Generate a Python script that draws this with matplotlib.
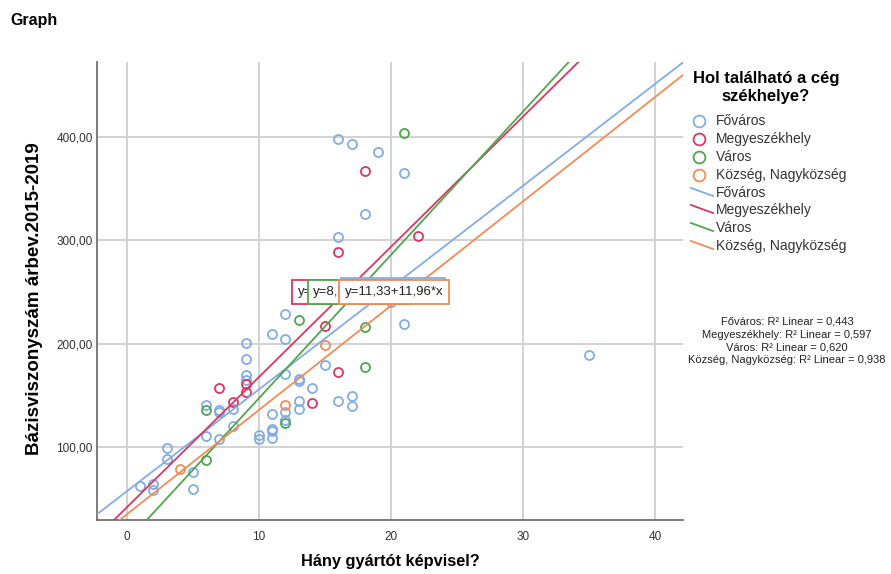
import numpy as np
import matplotlib
matplotlib.use("Agg")
import matplotlib.pyplot as plt
from matplotlib.ticker import FuncFormatter, FixedLocator

plt.rcParams['font.family'] = ['Liberation Sans', 'DejaVu Sans']

# ---- data -------------------------------------------------------------
groups = ["Főváros", "Megyeszékhely", "Város", "Község, Nagyközség"]
colors = ["#82ace6", "#d93862", "#4fa64f", "#f08c57"]

fovaros_x = [1, 2, 2, 3, 3, 5, 5, 6, 6, 7, 7, 7, 8, 8, 9, 9, 9, 9, 10, 10,
             11, 11, 11, 11, 11, 12, 12, 12, 12, 12, 13, 13, 13, 13, 14, 15,
             16, 16, 16, 17, 17, 17, 18, 19, 20, 21, 21, 35]
fovaros_y = [62.0, 64.5, 58.0, 99.4, 88.0, 75.8, 59.0, 140.3, 111.0, 136.0,
             134.0, 108.0, 137.0, 120.0, 201.0, 185.5, 170.0, 165.0, 112.0,
             108.0, 209.7, 131.6, 117.0, 115.5, 108.7, 229.0, 204.8, 171.0,
             134.0, 126.0, 166.0, 163.5, 144.5, 136.8, 157.4, 179.3, 144.2,
             398.0, 303.0, 393.0, 149.0, 139.4, 325.7, 386.0, 240.0, 365.0,
             219.0, 189.0]

megye_x = [7, 8, 9, 9, 14, 15, 16, 16, 18, 22]
megye_y = [157.0, 143.5, 160.6, 153.2, 143.0, 217.0, 173.0, 288.6, 367.6, 303.8]

varos_x = [6, 6, 12, 13, 18, 18, 21]
varos_y = [135.5, 87.8, 123.0, 222.5, 216.0, 177.7, 404.0]

kozseg_x = [4, 12, 15]
kozseg_y = [79.0, 140.3, 198.4]

# linear fit lines per group (intercept, slope)
fit_intercepts = [57.2, 41.7, 8.5, 34.9]
fit_slopes = [9.86, 12.61, 13.88, 10.1]

r2_values = ["0,443", "0,597", "0,620", "0,938"]
eq_labels = ["y=57,21+9,86*x", "y=41,73+12,61*x", "y=8,53+13,88*x",
             "y=11,33+11,96*x"]

x_ticks = [0, 10, 20, 30, 40]
y_ticks = [100, 200, 300, 400]

series = [(fovaros_x, fovaros_y), (megye_x, megye_y),
          (varos_x, varos_y), (kozseg_x, kozseg_y)]

# ---- figure -----------------------------------------------------------
W, H = 891, 574
fig = plt.figure(figsize=(W / 100, H / 100), dpi=100)
ax = fig.add_axes([97 / W, 1 - 520 / H, (683 - 97) / W, (520 - 62) / H])

ax.set_xlim(-2.27, 42.1)
ax.set_ylim(29.3, 472.7)

ax.xaxis.set_major_locator(FixedLocator(x_ticks))
ax.yaxis.set_major_locator(FixedLocator(y_ticks))
ax.yaxis.set_major_formatter(FuncFormatter(lambda v, p: f"{v:.2f}".replace(".", ",")))
ax.grid(True, color="#cfcfcf", lw=1.3, zorder=0)
ax.set_axisbelow(True)
ax.tick_params(length=0, labelsize=8.5, colors="#333333")
ax.tick_params(axis="y", pad=3)
ax.tick_params(axis="x", pad=8)
for s in ["top", "right"]:
    ax.spines[s].set_visible(False)
for s in ["left", "bottom"]:
    ax.spines[s].set_color("#666666")
    ax.spines[s].set_linewidth(1.2)

xs_line = np.array([-3.0, 43.0])
for (xv, yv), c in zip(series, colors):
    ax.plot(xv, yv, 'o', ms=6.5, mfc='none', mec=c, mew=1.3, zorder=3)
for b0, b1, c in zip(fit_intercepts, fit_slopes, colors):
    ax.plot(xs_line, b0 + b1 * xs_line, color=c, lw=1.3, zorder=4)

# stacked equation boxes
box_pos = [(16.6, 252.5), (12.95, 250.0), (14.1, 250.0), (16.5, 250.0)]
for i in [0, 1, 2, 3]:
    bx, by = box_pos[i]
    ax.text(bx, by, eq_labels[i], fontsize=9.5, color="#222222", ha="left",
            va="center", zorder=6 + i,
            bbox=dict(boxstyle="square,pad=0.42", fc="white",
                      ec=colors[i], lw=1.3))

ax.set_xlabel("Hány gyártót képvisel?", fontsize=11.8, fontweight="bold")
ax.xaxis.set_label_coords(0.5, -0.075)
ax.set_ylabel("Bázisviszonyszám árbev.2015-2019", fontsize=13.5,
              fontweight="bold")
ax.yaxis.set_label_coords(-0.093, 0.4825)

# ---- overlay in pixel coordinates: title, legend, R² notes ------------
ov = fig.add_axes([0, 0, 1, 1], zorder=-1)
ov.set_xlim(0, W)
ov.set_ylim(H, 0)
ov.axis("off")

ov.text(10, 20, "Graph", fontsize=11.5, fontweight="bold", va="center",
        ha="left")

ov.text(766, 78, "Hol található a cég", fontsize=12, fontweight="bold",
        ha="center", va="center")
ov.text(766, 97, "székhelye?", fontsize=12, fontweight="bold",
        ha="center", va="center")

row_y = [121, 139, 157, 175]
for yy, g, c in zip(row_y, groups, colors):
    ov.plot(699, yy, 'o', ms=8.5, mfc='none', mec=c, mew=1.3)
    ov.text(716, yy, g, fontsize=10, color="#333333", va="center", ha="left")

line_y = [193, 210, 228, 246]
for yy, g, c in zip(line_y, groups, colors):
    ov.plot([691, 713], [yy - 5, yy + 3], color=c, lw=1.3)
    ov.text(716, yy, g, fontsize=10, color="#333333", va="center", ha="left")

r2_y = [322, 335, 347, 360]
for yy, g, r in zip(r2_y, groups, r2_values):
    ov.text(787, yy, f"{g}: R² Linear = {r}", fontsize=8.0,
            color="#222222", ha="center", va="center")

fig.savefig("out.png", dpi=100)
